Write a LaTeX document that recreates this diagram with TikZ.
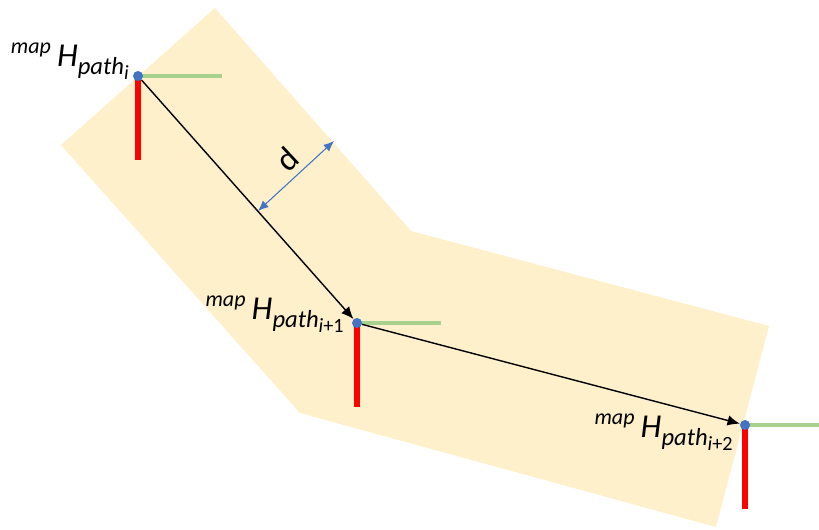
\documentclass[tikz,border=0pt]{standalone}
\usepackage{fontspec}
\setmainfont{Carlito}
\usetikzlibrary{arrows.meta}

\definecolor{bandfill}{HTML}{FFF0CC}
\definecolor{xgreen}{HTML}{A9D18E}
\definecolor{ydred}{HTML}{FF0000}
\definecolor{dotblue}{HTML}{4472C4}

\newcommand{\hpathlbl}[1]{\itshape\raisebox{0.8ex}{\fontsize{12.5}{15}\selectfont map}\kern3.5pt H%
  \raisebox{-0.55ex}{\fontsize{14}{16}\selectfont path\raisebox{-0.4ex}{\fontsize{11.5}{13}\selectfont #1}}}

\tikzset{
  pose/.style={circle,fill=dotblue,inner sep=0pt,minimum size=0.2cm},
  xaxis/.style={xgreen,line width=2.8pt},
  yaxis/.style={ydred,line width=3.3pt},
  hlbl/.style={anchor=base east,inner sep=0pt,font=\fontsize{19}{22}\selectfont}
}

\begin{document}
\begin{tikzpicture}[line join=round]
  \useasboundingbox (0,0) rectangle (16.38,10.58);
  % corridor of width d round the path
  \fill[bandfill] (4.30,10.42) -- (1.22,7.68) -- (6.00,2.32) -- (14.32,0.04)
    -- (15.38,4.06) -- (8.22,5.96) -- cycle;
  \coordinate (P1) at (2.76,9.06);
  \coordinate (P2) at (7.14,4.12);
  \coordinate (P3) at (14.90,2.08);
  \draw[xaxis] (P1) -- ++(1.68,0);
  \draw[yaxis] (P1) -- ++(0,-1.68);
  \draw[xaxis] (P2) -- ++(1.68,0);
  \draw[yaxis] (P2) -- ++(0,-1.68);
  \draw[xaxis] (P3) -- ++(1.60,0);
  \draw[yaxis] (P3) -- ++(0,-1.68);
  \node[pose] (p1) at (P1) {};
  \node[pose] (p2) at (P2) {};
  \node[pose] (p3) at (P3) {};
  \draw[line width=0.8pt,-{Latex[length=7pt,width=6pt]}] (p1) -- (p2);
  \draw[line width=0.8pt,-{Latex[length=7pt,width=6pt]}] (p2) -- (p3);
  % width d
  \coordinate (dA) at (5.16,6.36);
  \coordinate (dB) at (6.68,7.76);
  \draw[dotblue,line width=0.6pt,{Latex[length=6pt,width=5pt]}-{Latex[length=6pt,width=5pt]}] (dA) -- (dB);
  \node[rotate=43,font=\fontsize{19}{22}\selectfont] (dlbl) at (5.74,7.40) {d};
  \node[hlbl] (l1) at (2.58,9.26) {\hpathlbl{i}};
  \node[hlbl] (l2) at (6.88,4.20) {\hpathlbl{i{\upshape+1}}};
  \node[hlbl] (l3) at (14.66,1.84) {\hpathlbl{i{\upshape+2}}};
\end{tikzpicture}
\end{document}
